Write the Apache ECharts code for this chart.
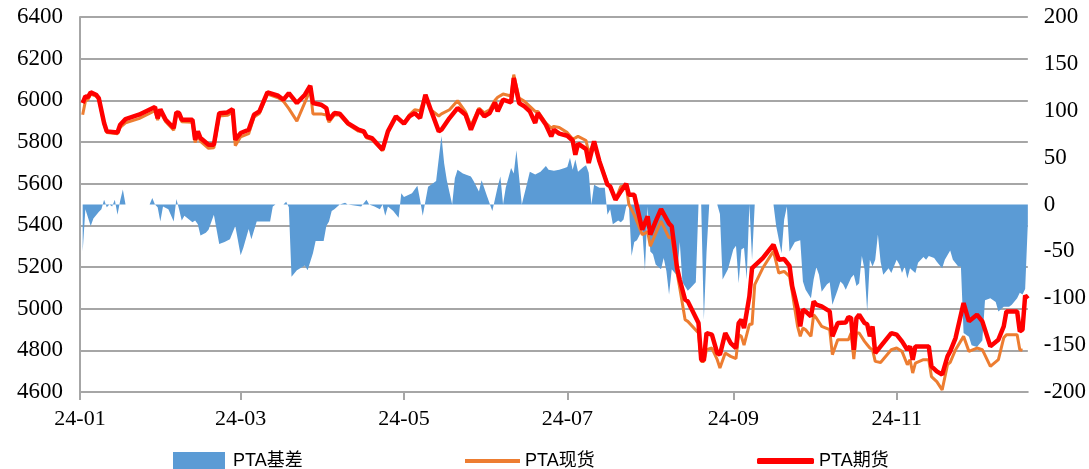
<!DOCTYPE html>
<html><head><meta charset="utf-8">
<script src="https://cdn.jsdelivr.net/npm/echarts@6/dist/echarts.min.js"></script>
<style>html,body{margin:0;padding:0;background:#fff}#c{width:1089px;height:469px}</style>
</head><body><div id="c"></div>
<script>
// ---- data (2024, MM-DD) ----
const lineDates = [
 '01-02','01-03','01-04','01-05','01-07','01-08','01-10','01-11','01-15','01-16','01-18','01-23','01-29','01-30','01-31',
 '02-02','02-05','02-06','02-07','02-08','02-12','02-13','02-14','02-15','02-18','02-20','02-22','02-25','02-27','02-28',
 '03-01','03-04','03-06','03-08','03-11','03-15','03-17','03-19','03-22','03-25','03-27','03-28','03-31',
 '04-02','04-03','04-05','04-07','04-10','04-14','04-16','04-17','04-19','04-23','04-25','04-28',
 '05-01','05-03','05-05','05-07','05-09','05-11','05-14','05-15','05-18','05-21','05-24','05-26','05-29','05-31',
 '06-02','06-04','06-05','06-07','06-10','06-11','06-13','06-15','06-17','06-19','06-20','06-23','06-25','06-26','06-28',
 '07-01','07-03','07-04','07-05','07-08','07-09','07-11','07-13','07-16','07-17','07-19','07-21','07-23','07-24','07-26','07-29','07-31',
 '08-01','08-03','08-05','08-08','08-09','08-11','08-12','08-14','08-15','08-19','08-20','08-21','08-22','08-24','08-26','08-27','08-29','08-31',
 '09-02','09-03','09-04','09-05','09-07','09-08','09-09','09-12','09-16','09-18','09-20','09-22','09-23','09-25','09-26','09-27','09-28','09-30',
 '10-01','10-02','10-04','10-07','10-08','10-10','10-13','10-14','10-15','10-16','10-17','10-18','10-20','10-21','10-22','10-23','10-24','10-26','10-30',
 '11-01','11-03','11-05','11-06','11-07','11-08','11-11','11-13','11-14','11-16','11-18','11-20','11-21','11-23','11-26','11-28',
 '12-01','12-03','12-06','12-09','12-11','12-12','12-16','12-17','12-18','12-19','12-20'
];
const futures = [
 5987,6019,6016,6038,6027,6011,5891,5851,5846,5883,5910,5931,5968,5914,5957,
 5907,5867,5942,5939,5907,5907,5811,5851,5819,5787,5787,5938,5942,5957,5811,
 5843,5859,5931,5947,6038,6022,6003,6035,5987,6027,6070,5987,5979,
 5963,5907,5939,5936,5891,5859,5851,5827,5819,5763,5851,5923,
 5888,5923,5939,5915,6027,5955,5851,5859,5915,5963,5931,5859,5955,5923,
 5939,5990,5947,6003,5990,6107,5987,5971,5947,5891,5939,5883,5827,5859,5840,
 5830,5807,5739,5792,5766,5699,5803,5707,5595,5587,5523,5563,5600,5547,5547,5379,5443,
 5355,5419,5478,5408,5395,5195,5139,5043,5035,4931,4755,4752,4883,4875,4787,4779,4883,4835,
 4811,4931,4947,4907,5059,5195,5207,5243,5307,5235,5238,5205,5107,5002,4915,4995,4987,4963,
 5035,5019,5011,4987,4867,4931,4934,4960,4955,4803,4955,4971,4931,4925,4867,4915,4787,4819,4883,
 4875,4843,4803,4819,4755,4819,4819,4819,4723,4699,4683,4771,4795,4859,5027,4939,
 4971,4939,4819,4851,4915,4987,4987,4891,4899,5064,5048
];
const spot = [
 5931,5995,6005,6030,6020,6005,5885,5845,5840,5870,5892,5912,5950,5905,5945,
 5897,5857,5932,5929,5897,5895,5797,5835,5803,5770,5772,5925,5928,5943,5782,
 5825,5840,5920,5937,6030,6012,5995,5960,5900,5990,6050,5935,5935,
 5930,5895,5930,5930,5885,5852,5845,5820,5812,5758,5850,5920,
 5890,5930,5955,5950,6020,5955,5925,5935,5955,5998,5945,5878,5962,5940,
 5955,6000,6015,6030,6021,6123,6011,5995,5971,5947,5947,5891,5867,5875,5870,
 5845,5815,5820,5827,5807,5747,5797,5710,5600,5590,5523,5587,5590,5500,5450,5355,5370,
 5300,5360,5420,5340,5345,5171,5099,4947,4939,4883,4747,4747,4803,4811,4755,4715,4787,4771,
 4760,4875,4867,4825,4925,4925,5115,5195,5276,5171,5179,5155,5080,4915,4867,4907,4899,4867,
 4971,4955,4915,4899,4779,4851,4851,4851,4883,4758,4883,4883,4843,4827,4811,4803,4747,4742,4803,
 4811,4795,4731,4755,4691,4739,4755,4755,4674,4650,4610,4731,4742,4803,4867,4795,
 4811,4803,4723,4755,4860,4875,4875,4803,4800,null,null
];
const basisDates = [
 '01-02','01-03','01-05','01-06','01-08','01-09','01-10','01-11','01-12','01-13','01-14','01-15','01-16','01-17','01-18','01-27','01-28','01-29','01-30','01-31',
 '02-01','02-03','02-05','02-06','02-07','02-08','02-09','02-12','02-13','02-14','02-15','02-17','02-18','02-20','02-22','02-24','02-26','02-28',
 '03-01','03-02','03-04','03-05','03-07','03-08','03-12','03-13','03-14','03-17','03-18','03-19','03-20','03-22','03-25','03-26','03-28','03-29',
 '04-01','04-02','04-03','04-04','04-05','04-07','04-09','04-10','04-15','04-17','04-18','04-20','04-22','04-23','04-24','04-25','04-27','04-29','04-30',
 '05-01','05-04','05-06','05-07','05-08','05-10','05-12','05-13','05-15','05-16','05-17','05-19','05-20','05-21','05-23','05-26','05-27','05-29','05-30',
 '06-01','06-03','06-05','06-06','06-07','06-08','06-10','06-11','06-12','06-14','06-16','06-17','06-19','06-21','06-23','06-24','06-26','06-28','06-30',
 '07-01','07-02','07-03','07-04','07-05','07-07','07-08','07-09','07-10','07-11','07-13','07-15','07-16','07-17','07-18','07-20','07-21','07-22','07-23','07-24','07-25','07-26','07-27','07-29','07-30','07-31',
 '08-01','08-02','08-03','08-05','08-06','08-07','08-08','08-09','08-11','08-12','08-13','08-15','08-16','08-18','08-19','08-20','08-21','08-22','08-23','08-26','08-27','08-28','08-30',
 '09-01','09-02','09-03','09-04','09-05','09-06','09-07','09-08','09-09','09-16','09-17','09-19','09-20','09-21','09-22','09-24','09-26','09-27','09-28','09-30',
 '10-01','10-02','10-03','10-04','10-06','10-07','10-08','10-10','10-11','10-12','10-13','10-15','10-16','10-17','10-18','10-19','10-20','10-21','10-22','10-23','10-24','10-25','10-26','10-27','10-29','10-30',
 '11-01','11-02','11-03','11-04','11-05','11-06','11-08','11-09','11-11','11-12','11-13','11-15','11-16','11-18','11-19','11-21','11-22','11-24','11-25','11-26','11-28','11-29',
 '12-01','12-03','12-04','12-06','12-08','12-09','12-11','12-13','12-14','12-16','12-17','12-18','12-19','12-20'
];
const basis = [
 -50,-5,-23,-15,-8,-5,5,-3,0,-2,5,-11,4,16,0,0,7,0,-3,-18,
 -2,-5,-18,6,-5,-17,-12,-19,-17,-21,-33,-30,-27,-11,-42,-40,-37,-23,
 -54,-46,-26,-37,-18,-18,-18,-2,0,0,3,-3,-77,-70,-65,-70,-52,-39,
 -39,-23,-18,-7,-5,0,2,0,-2,5,0,-2,-5,0,-12,-2,-7,-14,12,
 8,12,20,5,-12,19,23,25,73,44,26,0,28,37,33,30,25,14,26,
 9,-7,19,30,0,18,39,33,58,0,23,35,32,35,41,37,36,37,39,
 40,50,37,48,35,40,42,34,0,21,18,18,-11,-5,-21,-17,-19,-16,-2,0,-55,-40,-38,-27,-70,-2,
 -50,-53,-64,-69,-57,-71,-96,-69,-76,-40,-83,-92,-89,-83,0,0,-123,-51,0,0,-10,-80,-69,
 -48,-44,-84,-48,-46,-80,0,-59,0,0,-23,-52,-16,-2,-50,-40,-38,-82,-91,-100,
 -80,-67,-75,-93,-85,-83,-107,-91,-82,-85,-91,-78,-75,-87,-84,-55,-69,-114,-59,-66,-59,-32,-61,-75,-68,-73,
 -59,-64,-73,-66,-79,-68,-73,-62,-56,-59,-55,-57,-61,-68,-59,-49,-59,-66,-66,-137,-141,-150,
 -152,-145,-102,-100,-104,-114,-109,-109,-107,-100,-94,-96,-90,-20
];
const xLabelDates = ['2024-01-01','2024-03-01','2024-05-01','2024-07-01','2024-09-01','2024-11-01'];
const leftTicks = [4600, 6400, 200];   // min, max, step
const rightTicks = [-200, 200, 50];
const names = ['PTA基差', 'PTA现货', 'PTA期货'];

// ---- build ----
function toTs(s){ const p = s.split('-').map(Number); return new Date(p[0], p[1]-1, p[2]).getTime(); }
function pairs(dates, vals){ const out = []; dates.forEach((d,i) => { if (vals[i] != null) out.push([toTs('2024-' + d), vals[i]]); }); return out; }
const xTicks = xLabelDates.map(toTs);
const serif = "'Liberation Serif','Times New Roman',serif";
const grey = '#a6a6a6';
const chart = echarts.init(document.getElementById('c'), null, {renderer: 'canvas'});
const legendText = {fontSize: 18, color: '#000', fontFamily: "'Liberation Sans','Noto Sans CJK SC',sans-serif"};
chart.setOption({
  animation: false,
  backgroundColor: '#fff',
  grid: {left: 80, right: 61, top: 17, bottom: 77, containLabel: false},
  legend: [
    {data: [{name: names[0], icon: 'rect'}], left: 168, top: 447, itemWidth: 52, itemHeight: 18, textStyle: Object.assign({padding: [0,0,0,3]}, legendText)},
    {data: [{name: names[1], icon: 'rect'}], left: 460, top: 447, itemWidth: 55, itemHeight: 4, textStyle: legendText},
    {data: [{name: names[2], icon: 'roundRect'}], left: 752, top: 447, itemWidth: 57, itemHeight: 6, textStyle: legendText}
  ],
  xAxis: {
    type: 'value', min: toTs('2024-01-01'), max: toTs('2024-12-20'),
    axisLine: {show: true, onZero: false, lineStyle: {color: grey, width: 2}},
    axisTick: {show: true, customValues: xTicks, length: 8, lineStyle: {color: grey, width: 2}},
    axisLabel: {customValues: xTicks, margin: 16, fontSize: 22, fontFamily: serif, color: '#000',
      formatter: v => { const d = new Date(v); return String(d.getFullYear()).slice(2) + '-' + String(d.getMonth()+1).padStart(2,'0'); }},
    splitLine: {show: false}
  },
  yAxis: [
    {type: 'value', min: leftTicks[0], max: leftTicks[1], interval: leftTicks[2], position: 'left',
     axisLine: {show: true, lineStyle: {color: grey, width: 2}}, axisTick: {show: false},
     axisLabel: {fontSize: 23, fontFamily: serif, color: '#000', margin: 17, formatter: v => String(v)},
     splitLine: {show: true, lineStyle: {color: grey, width: 2}}},
    {type: 'value', min: rightTicks[0], max: rightTicks[1], interval: rightTicks[2], position: 'right',
     axisLine: {show: false}, axisTick: {show: false},
     axisLabel: {fontSize: 23, fontFamily: serif, color: '#000', margin: 16, formatter: v => String(v)},
     splitLine: {show: false}}
  ],
  series: [
    {name: names[0], type: 'line', yAxisIndex: 1, data: pairs(basisDates, basis), symbol: 'none',
     color: '#5B9BD5', itemStyle: {color: '#5B9BD5'}, lineStyle: {width: 0, color: '#5B9BD5'},
     areaStyle: {color: '#5B9BD5', opacity: 1, origin: 'auto'}, z: 1},
    {name: names[1], type: 'line', yAxisIndex: 0, data: pairs(lineDates, spot), symbol: 'none',
     color: '#ED7D31', itemStyle: {color: '#ED7D31'}, lineStyle: {width: 3, color: '#ED7D31'}, z: 2},
    {name: names[2], type: 'line', yAxisIndex: 0, data: pairs(lineDates, futures), symbol: 'none',
     color: '#FF0000', itemStyle: {color: '#FF0000'}, lineStyle: {width: 4.5, color: '#FF0000'}, z: 3}
  ]
});
</script>
</body></html>
